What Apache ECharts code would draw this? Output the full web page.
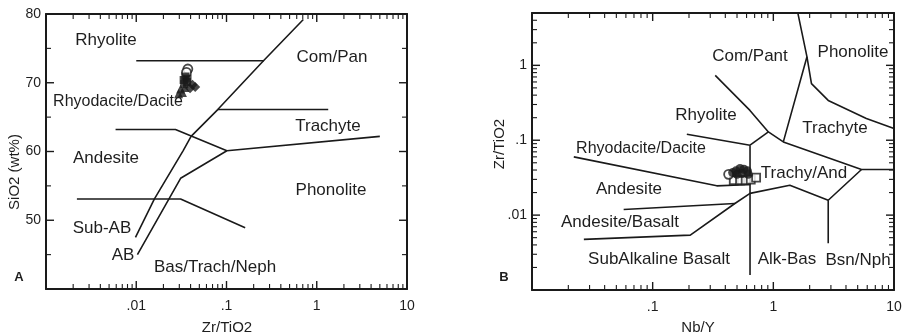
<!DOCTYPE html>
<html>
<head>
<meta charset="utf-8">
<script src="https://cdn.jsdelivr.net/npm/echarts@6/dist/echarts.min.js"></script>
<style>
  html, body { margin: 0; padding: 0; background: #fff; }
  #chart { width: 905px; height: 335px; }
</style>
</head>
<body>
<div id="chart"></div>
<script>
// ---- panel A: SiO2 vs Zr/TiO2 ----
var boundsA = [
  [[0.01, 73.2], [0.26, 73.2]],
  [[0.0098, 47.5], [0.0159, 53.1], [0.033, 60.1], [0.0405, 62.2], [0.08, 66.1], [0.257, 73.2], [0.71, 79.2]],
  [[0.0103, 45.0], [0.031, 56.1], [0.101, 60.1], [5.0, 62.2]],
  [[0.0059, 63.2], [0.0272, 63.2], [0.101, 60.1]],
  [[0.08, 66.1], [1.34, 66.1]],
  [[0.0022, 53.1], [0.031, 53.1], [0.161, 48.9]]
];
var circA = [[0.0373, 72.0], [0.036, 71.5]];
var squareA = [[0.035, 70.9], [0.0335, 70.4], [0.0365, 70.1], [0.034, 69.8], [0.037, 70.6]];
var triA = [[0.031, 69.1], [0.0325, 68.6], [0.0295, 68.4], [0.0345, 69.3]];
var diamA = [[0.042, 69.7], [0.045, 69.4], [0.0395, 69.2]];

// ---- panel B: Zr/TiO2 vs Nb/Y ----
var boundsB = [
  [[1.6, 4.9], [1.9, 1.3], [1.21, 0.095]],
  [[1.9, 1.3], [2.07, 0.57], [2.85, 0.34], [5.9, 0.195], [10, 0.143]],
  [[0.33, 0.735], [0.64, 0.25], [0.91, 0.129], [1.21, 0.095], [5.38, 0.0407], [10, 0.0407]],
  [[0.91, 0.129], [0.641, 0.0858]],
  [[0.641, 0.0858], [0.641, 0.00158]],
  [[0.192, 0.12], [0.641, 0.0858]],
  [[0.0222, 0.06], [0.34, 0.0246], [0.641, 0.0256]],
  [[0.0575, 0.0119], [0.48, 0.0143]],
  [[0.0269, 0.00474], [0.205, 0.0054], [0.48, 0.0143], [0.641, 0.0195], [1.37, 0.025], [2.85, 0.0158], [5.38, 0.0407]],
  [[2.85, 0.0158], [2.85, 0.0042]]
];
var circB = [[0.426, 0.035]];
var fillB = [[0.49, 0.039], [0.53, 0.042], [0.57, 0.041], [0.61, 0.039], [0.55, 0.036], [0.5, 0.035], [0.62, 0.035], [0.46, 0.037]];
var squareB = [[0.47, 0.0292], [0.53, 0.0292], [0.59, 0.0292], [0.65, 0.0297], [0.72, 0.0316]];

// ---- ticks ----
var rangeXA = [0.001, 10], rangeYA = [40, 80];
var rangeXB = [0.01, 10], rangeYB = [0.001, 5];
var xTicksA = [0.01, 0.1, 1, 10], xTextA = ['.01', '.1', '1', '10'];
var xTicksB = [0.1, 1, 10], xTextB = ['.1', '1', '10'];
var yTicksB = [0.01, 0.1, 1], yTextB = ['.01', '.1', '1'];
var yTicksA = [50, 60, 70];
var yMinorA = [45, 55, 65, 75];
var minorSteps = [2, 3, 4, 5, 6, 7, 8, 9];
var xMinorA = [], xMinorB = [], yMinorB = [];
[0.001, 0.01, 0.1, 1].forEach(function (d) { minorSteps.forEach(function (m) { xMinorA.push(d * m); }); });
[0.01, 0.1, 1].forEach(function (d) { minorSteps.forEach(function (m) { xMinorB.push(d * m); }); });
[0.001, 0.01, 0.1].forEach(function (d) { minorSteps.forEach(function (m) { yMinorB.push(d * m); }); });
[2, 3, 4].forEach(function (m) { yMinorB.push(m); });

var ink = '#1a1a1a';
var txtCol = '#1e1e1e';
var font = '"Liberation Sans", Arial, sans-serif';

// plot boxes
var boxA = { left: 46, top: 14, width: 361, height: 275 };
var boxB = { left: 532, top: 13, width: 362, height: 277 };

function fmt(vals, texts) {
  return function (v) {
    for (var i = 0; i < vals.length; i++) {
      if (Math.abs(Math.log10(v) - Math.log10(vals[i])) < 1e-6) return texts[i];
    }
    return '';
  };
}

function axisBase(type, grid, pos, range, labelFmt, margin) {
  var a = {
    type: type, gridIndex: grid, position: pos, min: range[0], max: range[1],
    axisLine: { show: true, onZero: false, lineStyle: { color: ink, width: 2 } },
    axisTick: { show: false },
    axisLabel: labelFmt ? { show: true, formatter: labelFmt, margin: margin, color: txtCol, fontSize: 14, fontFamily: font } : { show: false },
    splitLine: { show: false }
  };
  if (type === 'log') a.logBase = 10;
  return a;
}

function valAxis(grid, pos, showLabel) {
  var a = axisBase('value', grid, pos, rangeYA, showLabel ? function (v) { return v === 40 ? '' : v; } : null, 5);
  a.interval = 10;
  return a;
}

function lineSeries(list, xi, yi) {
  return list.map(function (pts) {
    return {
      type: 'line', xAxisIndex: xi, yAxisIndex: yi, data: pts,
      showSymbol: false, symbol: 'none', silent: true,
      lineStyle: { color: ink, width: 1.6 }, z: 3
    };
  });
}

function pts(data, xi, yi, symbol, size, filled) {
  return {
    type: 'scatter', xAxisIndex: xi, yAxisIndex: yi, data: data,
    symbol: symbol, symbolSize: size, z: 5,
    itemStyle: filled ? { color: ink } : { color: '#fff', borderColor: ink, borderWidth: 1.8 }
  };
}

function txt(s, x, y, size, bold) {
  return {
    type: 'text', x: x, y: y, silent: true,
    style: {
      text: s, fill: txtCol, textAlign: 'center', textVerticalAlign: 'middle',
      font: (bold ? 'bold ' : '') + size + 'px ' + font
    }
  };
}
function vtxt(s, x, y, size) {
  var t = txt(s, x, y, size);
  t.rotation = Math.PI / 2;
  return t;
}

// fraction of the way along an axis range (linear or log)
function frac(v, range, isLog) {
  if (isLog) return Math.log10(v / range[0]) / Math.log10(range[1] / range[0]);
  return (v - range[0]) / (range[1] - range[0]);
}

// inward tick marks on all four sides of a plot box, as filled rects
function tickRects(box, rx, ry, logX, logY, xs, ys, len, w) {
  var out = [];
  function r(x, y, wd, ht) {
    out.push({ type: 'rect', silent: true, z: 50, shape: { x: x, y: y, width: wd, height: ht }, style: { fill: ink } });
  }
  var bottom = box.top + box.height, right = box.left + box.width;
  xs.forEach(function (v) {
    var px = box.left + frac(v, rx, logX) * box.width;
    r(px - w / 2, bottom - len, w, len);
    r(px - w / 2, box.top, w, len);
  });
  ys.forEach(function (v) {
    var py = bottom - frac(v, ry, logY) * box.height;
    r(box.left, py - w / 2, len, w);
    r(right - len, py - w / 2, len, w);
  });
  return out;
}

var chart = echarts.init(document.getElementById('chart'));
var series = [];
series = series.concat(lineSeries(boundsA, 0, 0));
series = series.concat(lineSeries(boundsB, 2, 2));
series.push(
  pts(circA, 0, 0, 'circle', 9, false),
  pts(squareA, 0, 0, 'rect', 8, true),
  pts(triA, 0, 0, 'triangle', 9, true),
  pts(diamA, 0, 0, 'diamond', 10, true),
  pts(squareB, 2, 2, 'rect', 8, false),
  pts(circB, 2, 2, 'circle', 9, false),
  pts(fillB, 2, 2, 'circle', 9, true)
);

var labels = [
  txt('Rhyolite', 106, 40, 17),
  txt('Com/Pan', 332, 57, 17),
  txt('Rhyodacite/Dacite', 118, 102, 16),
  txt('Trachyte', 328, 126, 17),
  txt('Andesite', 106, 158, 17),
  txt('Phonolite', 331, 190, 17),
  txt('Sub-AB', 102, 228, 17),
  txt('AB', 123, 255, 17),
  txt('Bas/Trach/Neph', 215, 267, 17),
  txt('A', 19, 277, 13, true),
  vtxt('SiO2 (wt%)', 15, 172, 15),
  txt('Zr/TiO2', 227, 328, 15),

  txt('Com/Pant', 750, 56, 17),
  txt('Phonolite', 853, 52, 17),
  txt('Rhyolite', 706, 115, 17),
  txt('Trachyte', 835, 128, 17),
  txt('Rhyodacite/Dacite', 641, 149, 16),
  txt('Trachy/And', 804, 173, 17),
  txt('Andesite', 629, 189, 17),
  txt('Andesite/Basalt', 620, 222, 17),
  txt('SubAlkaline Basalt', 659, 259, 17),
  txt('Alk-Bas', 787, 259, 17),
  txt('Bsn/Nph', 858, 260, 17),
  txt('B', 504, 277, 13, true),
  vtxt('Zr/TiO2', 500, 144, 15),
  txt('Nb/Y', 698, 328, 15)
];

var ticks = []
  .concat(tickRects(boxA, rangeXA, rangeYA, true, false, xTicksA.slice(0, 3), yTicksA, 8, 1.4))
  .concat(tickRects(boxA, rangeXA, rangeYA, true, false, xMinorA, yMinorA, 5, 1.1))
  .concat(tickRects(boxB, rangeXB, rangeYB, true, true, xTicksB.slice(0, 2), yTicksB, 8, 1.4))
  .concat(tickRects(boxB, rangeXB, rangeYB, true, true, xMinorB, yMinorB, 5, 1.1));

chart.setOption({
  animation: false,
  backgroundColor: '#fff',
  grid: [boxA, boxB],
  xAxis: [
    axisBase('log', 0, 'bottom', rangeXA, fmt(xTicksA, xTextA), 10),
    axisBase('log', 0, 'top', rangeXA, null, 0),
    axisBase('log', 1, 'bottom', rangeXB, fmt(xTicksB, xTextB), 10),
    axisBase('log', 1, 'top', rangeXB, null, 0)
  ],
  yAxis: [
    valAxis(0, 'left', true),
    valAxis(0, 'right', false),
    axisBase('log', 1, 'left', rangeYB, fmt(yTicksB, yTextB), 5),
    axisBase('log', 1, 'right', rangeYB, null, 0)
  ],
  series: series,
  graphic: labels.concat(ticks)
});
</script>
</body>
</html>
